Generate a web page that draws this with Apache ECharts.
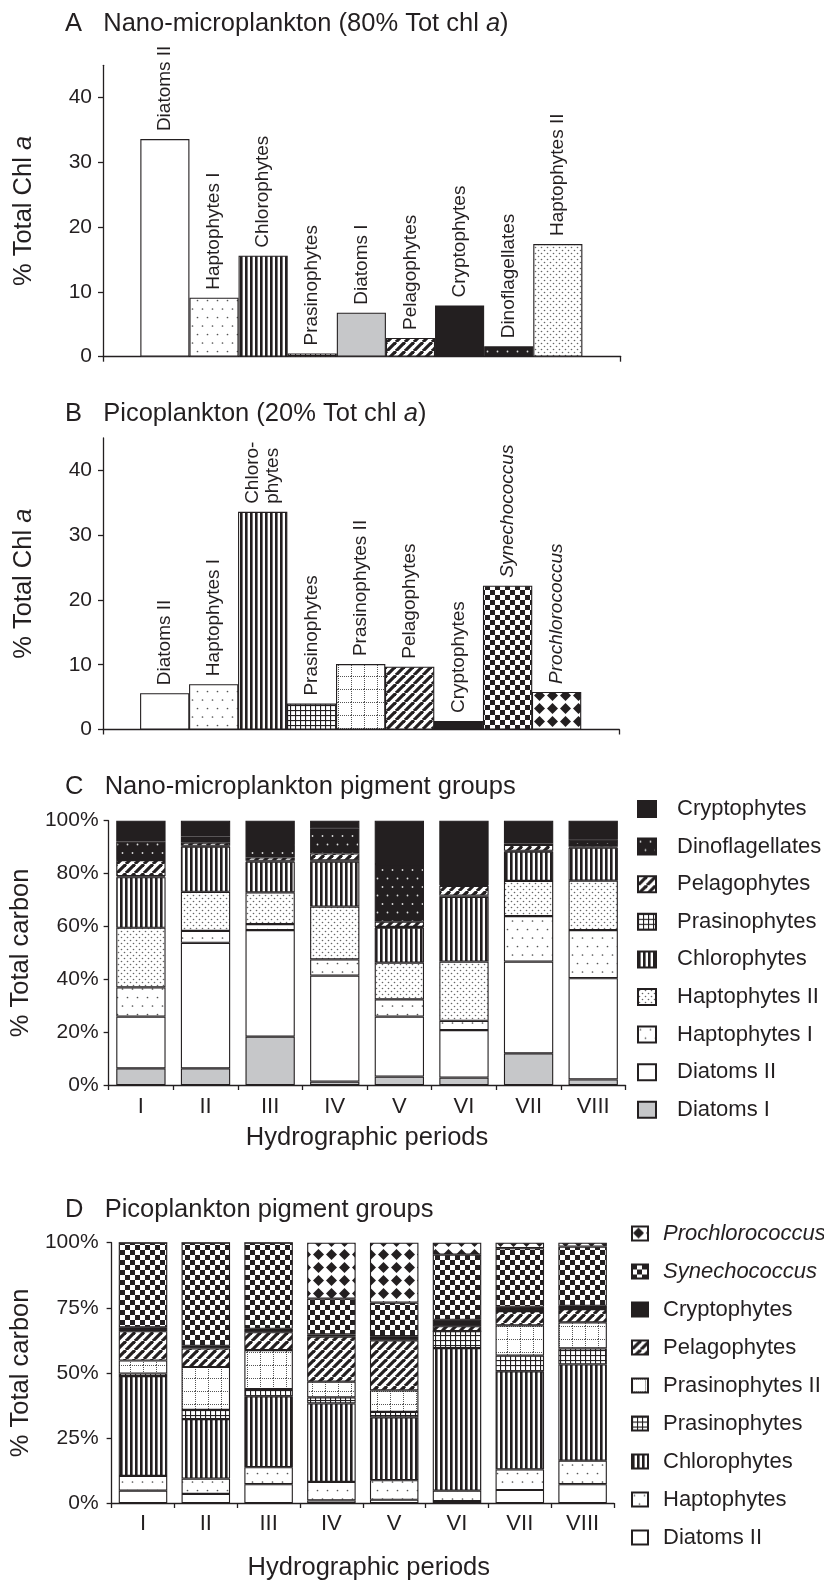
<!DOCTYPE html>
<html><head><meta charset="utf-8">
<script src="https://cdn.jsdelivr.net/npm/echarts@6/dist/echarts.min.js"></script>
<style>html,body{margin:0;padding:0;background:#fff}#c{width:824px;height:1582px}</style>
</head><body><div id="c"></div>
<script>
// ---------- DATA ----------
const namesA = ['Diatoms II','Haptophytes I','Chlorophytes','Prasinophytes','Diatoms I','Pelagophytes','Cryptophytes','Dinoflagellates','Haptophytes II'];
const valuesA = [33.6, 9.1, 15.6, 0.5, 6.8, 2.9, 7.9, 1.6, 17.4];

const namesB = ['Diatoms II','Haptophytes I','Chlorophytes','Prasinophytes','Prasinophytes II','Pelagophytes','Cryptophytes','Synechococcus','Prochlorococcus'];
const labelsB = ['Diatoms II','Haptophytes I','Chloro-\nphytes','Prasinophytes','Prasinophytes II','Pelagophytes','Cryptophytes','Synechococcus','Prochlorococcus'];
const valuesB = [5.6, 7.0, 33.6, 4.0, 10.1, 9.7, 1.3, 22.2, 5.8];

const periods = ['I','II','III','IV','V','VI','VII','VIII'];

// Panel C (bottom to top)
const groupsC = ['Diatoms I','Diatoms II','Haptophytes I','Haptophytes II','Chlorophytes','Prasinophytes','Pelagophytes','Dinoflagellates','Cryptophytes'];
const cDiatomsI      = [6.3, 6.3, 18.3, 1.3, 3.2, 2.8, 12.0, 2.1];
const cDiatomsII     = [19.6, 47.5, 40.3, 40.1, 22.7, 18.0, 34.7, 38.3];
const cHaptophytesI  = [11.0, 4.5, 2.3, 6.1, 6.5, 3.5, 17.2, 18.2];
const cHaptophytesII = [22.6, 14.8, 12.0, 20.0, 13.9, 22.4, 13.3, 18.7];
const cChlorophytes  = [19.1, 17.1, 11.6, 17.0, 13.2, 24.5, 11.1, 12.5];
const cPrasinophytes = [0.4, 0.3, 0.3, 0.5, 0.3, 0.5, 0.3, 0.3];
const cPelagophytes  = [6.1, 1.2, 1.3, 2.6, 2.0, 3.6, 2.2, 0.7];
const cDinoflagellates = [7.0, 2.3, 4.7, 9.5, 21.8, 0.3, 0.6, 2.0];
const cCryptophytes  = [7.9, 6.0, 9.2, 2.9, 16.4, 24.4, 8.6, 7.2];
const valuesC = [cDiatomsI, cDiatomsII, cHaptophytesI, cHaptophytesII, cChlorophytes, cPrasinophytes, cPelagophytes, cDinoflagellates, cCryptophytes];
const legendC = ['Cryptophytes','Dinoflagellates','Pelagophytes','Prasinophytes','Chlorophytes','Haptophytes II','Haptophytes I','Diatoms II','Diatoms I'];

// Panel D (bottom to top)
const groupsD = ['Diatoms II','Haptophytes','Chlorophytes','Prasinophytes','Prasinophytes II','Pelagophytes','Cryptophytes','Synechococcus','Prochlorococcus'];
const dDiatomsII     = [4.75, 3.5, 7.25, 1.0, 1.25, 0.75, 5.0, 7.25];
const dHaptophytes   = [5.65, 5.9, 6.5, 7.1, 7.5, 4.0, 7.9, 9.0];
const dChlorophytes  = [38.35, 22.85, 27.25, 30.15, 24.15, 54.75, 37.7, 37.0];
const dPrasinophytes = [1.0, 3.5, 2.75, 2.35, 2.1, 6.5, 6.0, 6.15];
const dPrasinophytesII = [5.0, 16.5, 15.0, 6.0, 8.25, 0, 11.65, 10.0];
const dPelagophytes  = [11.25, 7.15, 6.85, 17.3, 19.25, 1.9, 5.5, 5.1];
const dCryptophytes  = [1.5, 1.0, 1.3, 0.85, 1.6, 2.5, 1.65, 1.25];
const dSynechococcus = [32.5, 39.6, 33.1, 13.75, 12.9, 25.0, 22.5, 22.75];
const dProchlorococcus = [0, 0, 0, 21.5, 23.0, 4.6, 2.1, 1.5];
const valuesD = [dDiatomsII, dHaptophytes, dChlorophytes, dPrasinophytes, dPrasinophytesII, dPelagophytes, dCryptophytes, dSynechococcus, dProchlorococcus];
const legendD = ['Prochlorococcus','Synechococcus','Cryptophytes','Pelagophytes','Prasinophytes II','Prasinophytes','Chlorophytes','Haptophytes','Diatoms II'];

const italicNames = ['Synechococcus','Prochlorococcus'];

// ---------- STYLE ----------
const INK = '#231f20';
const FONT = '"Liberation Sans", Arial, Helvetica, sans-serif';

function tile(w, h, bg, draw) {
  const c = document.createElement('canvas');
  c.width = w; c.height = h;
  const g = c.getContext('2d');
  g.fillStyle = bg; g.fillRect(0, 0, w, h);
  draw(g, w, h);
  return { image: c, repeat: 'repeat' };
}
function dot(g, x, y, r, col) { g.fillStyle = col; g.beginPath(); g.arc(x, y, r, 0, Math.PI * 2); g.fill(); }

const FILL = {
  'Diatoms I': '#c6c7c9',
  'Diatoms II': '#ffffff',
  'Haptophytes I': tile(10, 17, '#fff', g => { dot(g, 2.5, 3, 0.85, '#555'); dot(g, 7.5, 11.5, 0.85, '#555'); }),
  'Haptophytes II': tile(6, 6, '#fff', g => { dot(g, 1.5, 1.5, 0.8, '#666'); dot(g, 4.5, 4.5, 0.8, '#666'); }),
  'Chlorophytes': tile(5, 4, '#fff', g => { g.fillStyle = INK; g.fillRect(0, 0, 2.6, 4); }),
  'Prasinophytes': tile(5, 5, '#fff', g => { g.fillStyle = INK; g.fillRect(0, 0, 5, 1.1); g.fillRect(0, 0, 1.1, 5); }),
  'Prasinophytes II': tile(13, 13, '#fff', g => { g.fillStyle = '#555'; for (let i = 0; i < 13; i += 2) { g.fillRect(0, i, 1, 1); g.fillRect(i, 0, 1, 1); } }),
  'Pelagophytes': tile(9, 9, '#fff', g => { g.strokeStyle = INK; g.lineWidth = 3.2; for (let k = -1; k <= 1; k++) { g.beginPath(); g.moveTo(k * 9, 9); g.lineTo(k * 9 + 9, 0); g.stroke(); } }),
  'Dinoflagellates': tile(10, 17, INK, g => { dot(g, 2.5, 3, 0.9, '#ddd'); dot(g, 7.5, 11.5, 0.9, '#ddd'); }),
  'Cryptophytes': INK,
  'Synechococcus': tile(10, 10, '#fff', g => { g.fillStyle = INK; g.fillRect(0, 0, 5, 5); g.fillRect(5, 5, 5, 5); }),
  'Prochlorococcus': tile(13, 13, '#fff', g => { g.fillStyle = INK; g.beginPath(); g.moveTo(6.5, 1); g.lineTo(12, 6.5); g.lineTo(6.5, 12); g.lineTo(1, 6.5); g.closePath(); g.fill(); })
};
FILL['Haptophytes'] = FILL['Haptophytes I'];

const txt = (size) => ({ fontSize: size, color: INK, fontFamily: FONT, rich: { i: { fontStyle: 'italic', fontSize: size, color: INK, fontFamily: FONT } } });
const axisLine = { show: true, onZero: false, lineStyle: { color: INK, width: 1.3 } };
const tickStyle = { color: INK, width: 1.3 };

function barLabelFmt(p) {
  const raw = p.name;
  if (italicNames.indexOf(raw) >= 0) return '{i|' + raw + '}';
  return raw;
}

const barLabel = Object.assign({ show: true, position: 'top', rotate: 90, align: 'left', verticalAlign: 'middle', distance: 8, lineHeight: 20, formatter: barLabelFmt }, txt(19));

// x axis for A/B (value axis so bars sit edge to edge, inset from axis ends)
function xAB(gi) {
  return { gridIndex: gi, type: 'value', min: -1.26, max: 9.28, axisLine: axisLine,
    axisTick: { show: true, customValues: [-1.26, 9.28], length: 5, lineStyle: tickStyle },
    axisLabel: { show: false }, splitLine: { show: false } };
}
function yAB(gi) {
  return { gridIndex: gi, type: 'value', min: 0, max: 45, axisLine: axisLine,
    axisTick: { show: true, customValues: [0, 10, 20, 30, 40], length: 5, lineStyle: tickStyle },
    axisLabel: Object.assign({ customValues: [0, 10, 20, 30, 40], margin: 11 }, txt(21)),
    splitLine: { show: false },
    name: '% Total Chl {i|a}', nameLocation: 'middle', nameRotate: 90, nameGap: 66, nameTextStyle: txt(25.5) };
}

const series = [];
series.push({ type: 'bar', xAxisIndex: 0, yAxisIndex: 0, barWidth: 49.1, label: barLabel,
  itemStyle: { borderColor: INK, borderWidth: 1.1 },
  data: valuesA.map((v, i) => ({ value: [i, v], name: namesA[i], itemStyle: { color: FILL[namesA[i]] } })) });
series.push({ type: 'bar', xAxisIndex: 1, yAxisIndex: 1, barWidth: 49.3, label: barLabel,
  itemStyle: { borderColor: INK, borderWidth: 1.1 },
  data: valuesB.map((v, i) => ({ value: [i, v], name: labelsB[i], itemStyle: { color: FILL[namesB[i]] } })) });

groupsC.forEach((g, k) => series.push({ type: 'bar', name: g, stack: 'C', xAxisIndex: 2, yAxisIndex: 2, barWidth: 49.3,
  itemStyle: { color: FILL[g], borderColor: INK, borderWidth: 1.1 }, data: valuesC[k] }));
groupsD.forEach((g, k) => series.push({ type: 'bar', name: g, stack: 'D', xAxisIndex: 3, yAxisIndex: 3, barWidth: 48.5,
  itemStyle: { color: FILL[g], borderColor: INK, borderWidth: 1.1 }, data: valuesD[k] }));

const legendFmt = n => italicNames.indexOf(n) >= 0 ? '{i|' + n + '}' : n;

const titleStyle = Object.assign({ fontWeight: 'normal' }, txt(25.5));

const option = {
  animation: false,
  backgroundColor: '#ffffff',
  textStyle: { fontFamily: FONT },
  title: [
    { text: 'A   Nano-microplankton (80% Tot chl {i|a})', left: 65, top: 11, padding: 0, textStyle: titleStyle },
    { text: 'B   Picoplankton (20% Tot chl {i|a})', left: 65, top: 400.5, padding: 0, textStyle: titleStyle },
    { text: 'C   Nano-microplankton pigment groups', left: 65, top: 774, padding: 0, textStyle: titleStyle },
    { text: 'D   Picoplankton pigment groups', left: 65, top: 1197, padding: 0, textStyle: titleStyle }
  ],
  grid: [
    { left: 103, right: 203.3, top: 65.3, bottom: 1225.3 },
    { left: 103, right: 204.7, top: 438, bottom: 852.5 },
    { left: 106, right: 198.5, top: 820.7, bottom: 497 },
    { left: 110, right: 210, top: 1242.7, bottom: 72.7 }
  ],
  xAxis: [
    xAB(0), xAB(1),
    { gridIndex: 2, type: 'category', data: periods, axisLine: axisLine,
      axisTick: { show: true, length: 5, lineStyle: tickStyle }, axisLabel: Object.assign({ margin: 11 }, txt(22)),
      name: 'Hydrographic periods', nameLocation: 'middle', nameGap: 40, nameTextStyle: txt(25.5) },
    { gridIndex: 3, type: 'category', data: periods, axisLine: axisLine,
      axisTick: { show: true, length: 5, lineStyle: tickStyle }, axisLabel: Object.assign({ margin: 10 }, txt(22)),
      name: 'Hydrographic periods', nameLocation: 'middle', nameGap: 52,
      nameTextStyle: Object.assign({ padding: [0, 0, 0, 12] }, txt(25.5)) }
  ],
  yAxis: [
    yAB(0), yAB(1),
    { gridIndex: 2, type: 'value', min: 0, max: 100, interval: 20, axisLine: axisLine,
      axisTick: { show: true, length: 5, lineStyle: tickStyle },
      axisLabel: Object.assign({ formatter: '{value}%', margin: 10 }, txt(21)), splitLine: { show: false },
      name: '% Total carbon', nameLocation: 'middle', nameRotate: 90, nameGap: 69, nameTextStyle: txt(25.5) },
    { gridIndex: 3, type: 'value', min: 0, max: 100, interval: 25, axisLine: axisLine,
      axisTick: { show: true, length: 5, lineStyle: tickStyle },
      axisLabel: Object.assign({ formatter: '{value}%', margin: 13 }, txt(21)), splitLine: { show: false },
      name: '% Total carbon', nameLocation: 'middle', nameRotate: 90, nameGap: 73, nameTextStyle: txt(25.5) }
  ],
  legend: [
    { data: legendC, orient: 'vertical', left: 637, top: 798, padding: 0, itemWidth: 18, itemHeight: 16, itemGap: 15.6,
      icon: 'rect', selectedMode: false, formatter: legendFmt,
      textStyle: Object.assign({ padding: [0, 0, 0, 16] }, txt(22)) },
    { data: legendD, orient: 'vertical', left: 631, top: 1222.5, padding: 0, itemWidth: 16, itemHeight: 14, itemGap: 16,
      icon: 'rect', selectedMode: false, formatter: legendFmt,
      textStyle: Object.assign({ padding: [0, 0, 0, 10] }, txt(22)) }
  ],
  series: series
};

const chart = echarts.init(document.getElementById('c'), null, { renderer: 'canvas' });
chart.setOption(option);
</script>
</body></html>
